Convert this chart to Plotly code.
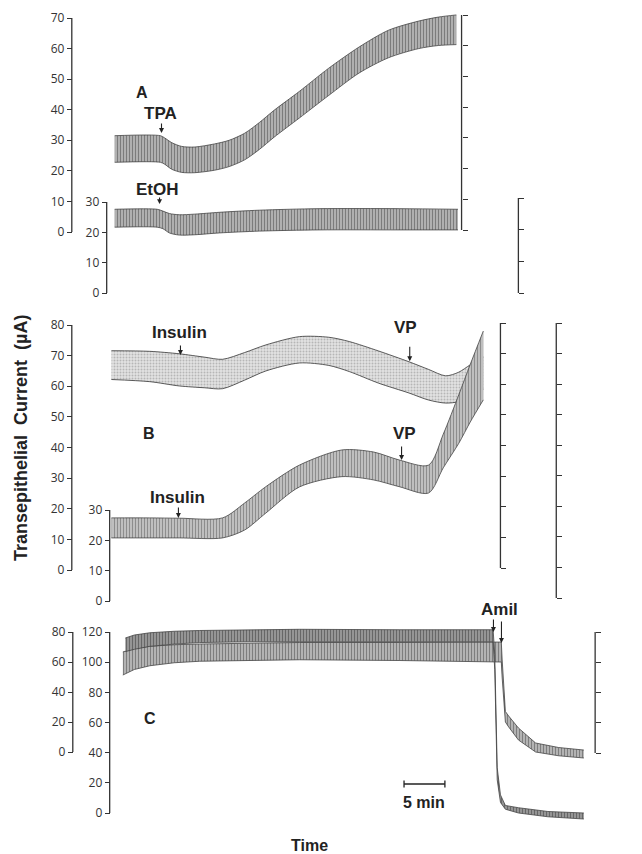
import plotly.graph_objects as go

# ---------------- data (time in minutes, current in µA) ----------------
t_a1 = [0, 5.6, 6.1, 7.0, 8.2, 9.8, 12.2, 14.0, 15.9, 17.7, 19.5, 22.6, 26.2, 29.9, 33.5, 37.2, 39.6, 41.8]
up_a1 = [31.5, 31.5, 30.8, 29.2, 28.0, 27.8, 28.8, 30.0, 32.3, 35.8, 39.8, 46, 53.6, 60.5, 66, 69, 70.3, 71]
lo_a1 = [22.8, 22.8, 22.2, 20.5, 19.5, 19.4, 20.2, 21.4, 23.6, 27.0, 31.0, 37.3, 44.7, 52, 57, 60, 61, 61.3]

t_a2 = [0, 5.2, 5.9, 6.7, 7.9, 9.8, 12.8, 17.7, 25.0, 34.8, 42.0]
up_a2 = [27.6, 27.6, 27, 26.2, 25.8, 26, 26.6, 27.3, 27.8, 27.8, 27.6]
lo_a2 = [21.7, 21.7, 21.2, 19.8, 19.1, 19.2, 19.8, 20.4, 20.8, 20.8, 20.8]

t_b1 = [-0.4, 4.3, 7.9, 11.0, 13.2, 15.9, 18.5, 22.6, 26.2, 28.7, 32.3, 36.0, 38.4, 40.5, 42.1, 43.5, 45.1]
up_b1 = [71.6, 71.4, 70.6, 69.5, 68.8, 71, 73.5, 76.2, 76, 74.6, 71.5, 68, 65.5, 63.4, 64.6, 67, 69.5]
lo_b1 = [62.2, 61.5, 60.1, 59.5, 59.2, 62, 65, 67.6, 66.8, 64.8, 61, 57.8, 55.5, 54.5, 55, 57, 59]

t_b2 = [-0.4, 4.3, 7.9, 13.2, 15.9, 18.5, 22.6, 27.8, 31.7, 34.8, 38.4, 40.2, 42.1, 43.5, 45.1]
up_b2 = [27.4, 27.4, 27.3, 27.4, 32.3, 37.7, 44.8, 49.8, 49.1, 46.5, 44.8, 55, 68, 78, 89]
lo_b2 = [20.8, 20.8, 20.8, 20.8, 23.4, 29, 37.6, 41, 39.9, 37.7, 35.6, 43.9, 52, 59, 66.3]

t_c80 = [1.0, 2.4, 4.3, 7.3, 10.4, 16.5, 22.6, 34.8, 47.3, 47.4, 47.8, 48.2, 49.4, 51.5, 54.3, 57.4]
up_c80 = [66.7, 69, 70.5, 71.5, 72, 72.5, 73, 73, 73.3, 62, 27, 24, 16, 6, 3, 1.3]
lo_c80 = [51.3, 55, 57.5, 59.5, 60.5, 61, 61.5, 61, 60, 50, 20, 16.7, 8, 0, -2.5, -4]

t_c120 = [1.3, 2.4, 4.3, 7.3, 10.4, 16.5, 22.6, 34.8, 46.3, 46.5, 46.8, 47.2, 47.8, 49.4, 53.0, 57.4]
up_c120 = [116, 118, 119.5, 120.5, 121, 121.5, 121.8, 121.5, 121.5, 105, 30, 12, 5, 3.5, 1, 0]
lo_c120 = [107, 108.5, 110.5, 112, 113, 113.5, 113.5, 113.5, 113.5, 95, 22, 7, 2.5, 0, -2.5, -4]

ticks_a1 = [0, 10, 20, 30, 40, 50, 60, 70]
ticks_a2 = [0, 10, 20, 30]
ticks_b1 = [0, 10, 20, 30, 40, 50, 60, 70, 80]
ticks_b2 = [0, 10, 20, 30]
ticks_b2r = [0, 10, 20, 30, 40, 50, 60, 70, 80, 90]
ticks_c80 = [0, 20, 40, 60, 80]
ticks_c120 = [0, 20, 40, 60, 80, 100, 120]

# event times (min) and the current value each arrow points at
ev_tpa, v_tpa = 5.73, 32.4
ev_etoh, v_etoh = 5.49, 29.3
ev_ins1, v_ins1 = 8.05, 70.2
ev_vp1, v_vp1 = 36.1, 68.2
ev_ins2, v_ins2 = 7.8, 27.4
ev_vp2, v_vp2 = 35.1, 46.5
ev_amil1, v_amil1 = 46.34, 120
ev_amil2, v_amil2 = 47.32, 72.7
bar_start, bar_len = 35.4, 5

# ---------------- layout geometry (screen pixels) ----------------
WIN_W, WIN_H = 642, 854
OFF = 8                      # default page margin of the html body
W, H = WIN_W - OFF, WIN_H - OFF
X0_PX, PX_PER_MIN = 115, 8.2
AXC = '#333'
TICKFONT = dict(family='Open Sans, DejaVu Sans', size=12, color='#333')
LBLFONT = 'Liberation Sans, Arial'


def px2paper_x(px):
    return (px - OFF) / W


def px2paper_y(py):
    return 1 - (py - OFF) / H


def yrange(p0, ptop, vtop):
    s = (p0 - ptop) / vtop
    p0f = p0 - OFF
    return [(p0f - H) / s, p0f / s]


fig = go.Figure()

# name: (x_px, px of 0, px of top, top value, ticks, side)
axspec = {
    'y':   (72, 232, 18, 70, ticks_a1, 'left'),
    'y2':  (463, 230, 15, 70, ticks_a1, 'right'),
    'y3':  (107, 293, 202, 30, ticks_a2, 'left'),
    'y4':  (520, 293, 198, 30, ticks_a2, 'right'),
    'y5':  (72, 570, 325, 80, ticks_b1, 'left'),
    'y6':  (502, 568, 323, 80, ticks_b1, 'right'),
    'y7':  (110, 601, 510, 30, ticks_b2, 'left'),
    'y8':  (558, 598, 323, 90, ticks_b2r, 'right'),
    'y9':  (73, 752, 632, 80, ticks_c80, 'left'),
    'y10': (597, 753, 632, 80, ticks_c80, 'right'),
    'y11': (110, 813, 632, 120, ticks_c120, 'left'),
    'y12': (639, 817, 632, 120, ticks_c120, 'right'),
}

layout_axes = {}
shapes = []
for name, (xp, p0, ptop, vtop, tk, side) in axspec.items():
    key = 'yaxis' if name == 'y' else 'yaxis' + name[1:]
    ax = dict(domain=[0, 1], range=yrange(p0, ptop, vtop), anchor='free',
              position=px2paper_x(xp), side=side, tickvals=tk,
              ticktext=[str(v) for v in tk] if side == 'left' else [''] * len(tk),
              showticklabels=(side == 'left'),
              ticks='outside', ticklen=5, tickwidth=1.2, tickcolor=AXC,
              showgrid=False, zeroline=False, showline=False,
              tickfont=TICKFONT, fixedrange=True)
    if name != 'y':
        ax['overlaying'] = 'y'
    layout_axes[key] = ax
    shapes.append(dict(type='line', xref='paper', yref=name,
                       x0=px2paper_x(xp), x1=px2paper_x(xp),
                       y0=tk[0], y1=tk[-1], line=dict(color=AXC, width=1.3)))
    fig.add_trace(go.Scatter(x=[None], y=[None], yaxis=name, showlegend=False,
                             hoverinfo='skip'))


def band(t, up, lo, yaxis, bg, fg, shape='|', edge='#444', sol=0.4, smooth=True):
    ls = dict(shape='spline', smoothing=0.8) if smooth else dict(shape='linear')
    fig.add_trace(go.Scatter(x=t, y=lo, yaxis=yaxis, mode='lines',
                             line=dict(color=edge, width=0.8, **ls),
                             showlegend=False, hoverinfo='skip'))
    fig.add_trace(go.Scatter(
        x=t, y=up, yaxis=yaxis, mode='lines', fill='tonexty', fillcolor=bg,
        fillpattern=dict(shape=shape, fgcolor=fg, bgcolor=bg, size=3, solidity=sol),
        line=dict(color=edge, width=0.8, **ls), showlegend=False, hoverinfo='skip'))


band(t_a1, up_a1, lo_a1, 'y', '#b5b5b5', '#444444')
band(t_a2, up_a2, lo_a2, 'y3', '#b5b5b5', '#444444')
band(t_b1, up_b1, lo_b1, 'y5', '#e2e2e2', '#8a8a8a', shape='.', edge='#333', sol=0.35)
band(t_b2, up_b2, lo_b2, 'y7', '#c4c4c4', '#555555')
band(t_c80, up_c80, lo_c80, 'y9', '#b8b8b8', '#444444', smooth=False)
band(t_c120, up_c120, lo_c120, 'y11', '#9a9a9a', '#333333', smooth=False)

annotations = []


def arrow(t, v, yaxis, ay):
    annotations.append(dict(x=t, y=v, xref='x', yref=yaxis, text='', showarrow=True,
                            ax=0, ay=ay, arrowhead=2, arrowsize=0.9, arrowwidth=1.1,
                            arrowcolor='#222'))


arrow(ev_tpa, v_tpa, 'y', -11)
arrow(ev_etoh, v_etoh, 'y3', -8)
arrow(ev_ins1, v_ins1, 'y5', -11)
arrow(ev_vp1, v_vp1, 'y5', -16)
arrow(ev_ins2, v_ins2, 'y7', -12)
arrow(ev_vp2, v_vp2, 'y7', -15)
arrow(ev_amil1, v_amil1, 'y11', -14)
arrow(ev_amil2, v_amil2, 'y9', -23)


def label(txt, xp, yp, size=17, angle=0):
    annotations.append(dict(x=px2paper_x(xp), y=px2paper_y(yp), xref='paper', yref='paper',
                            text='<b>' + txt + '</b>', showarrow=False, textangle=angle,
                            xanchor='center', yanchor='middle',
                            font=dict(family=LBLFONT, size=size, color='#222')))


label('A', 142, 93, 16)
label('TPA', 161, 113)
label('EtOH', 158, 189)
label('Insulin', 180, 333)
label('B', 149, 433, 16)
label('VP', 407, 327)
label('Insulin', 178, 497)
label('VP', 406, 433)
label('Amil', 501, 609)
label('C', 150, 718, 16)
label('5 min', 425, 802, 16)
label('Time', 310, 845, 16)
label('Transepithelial  Current  (µA)', 21, 438, 18, -90)

# 5-min scale bar
ybar = px2paper_y(784)
cap = 3.5 / H
shapes.append(dict(type='line', xref='x', yref='paper', x0=bar_start, x1=bar_start + bar_len,
                   y0=ybar, y1=ybar, line=dict(color='#222', width=1.3)))
for xx in (bar_start, bar_start + bar_len):
    shapes.append(dict(type='line', xref='x', yref='paper', x0=xx, x1=xx,
                       y0=ybar - cap, y1=ybar + cap, line=dict(color='#222', width=1.3)))

fig.update_layout(
    width=W, height=H, margin=dict(l=0, r=0, t=0, b=0),
    paper_bgcolor='white', plot_bgcolor='white', showlegend=False,
    xaxis=dict(domain=[0, 1],
               range=[-(X0_PX - OFF) / PX_PER_MIN, (WIN_W - X0_PX) / PX_PER_MIN],
               visible=False, fixedrange=True),
    shapes=shapes, annotations=annotations, **layout_axes)

fig.write_html("out.html")
